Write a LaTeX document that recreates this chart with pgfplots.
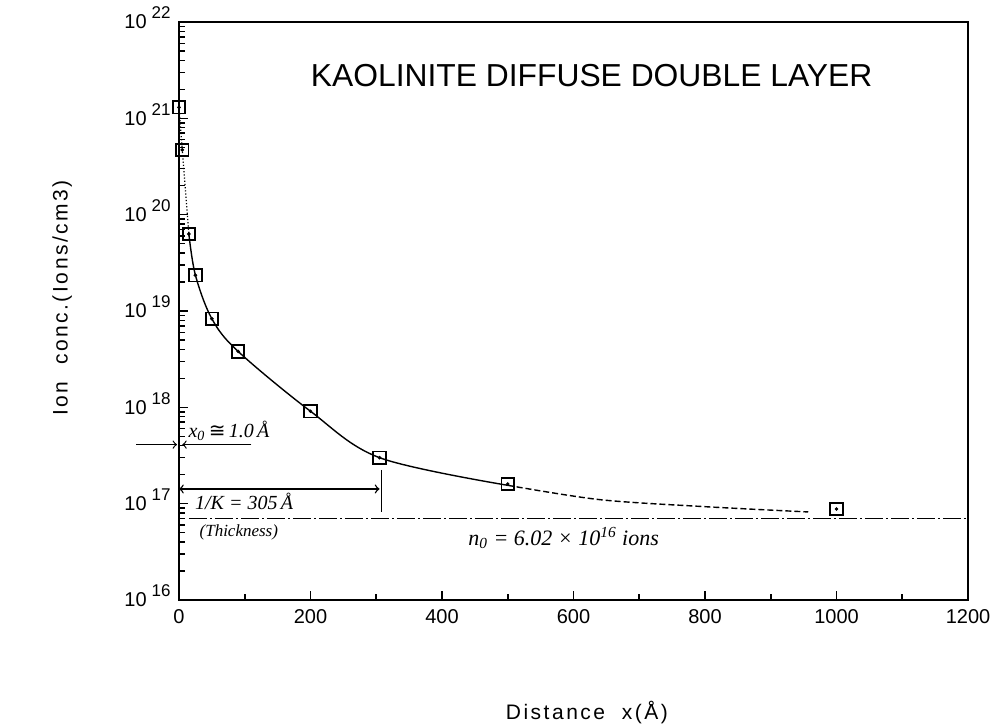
\documentclass[border=0pt]{standalone}
\usepackage{fontspec}
\setmainfont{Liberation Sans}
\newfontfamily\hand{Liberation Serif}
\newfontfamily\sym{DejaVu Sans}
\usepackage{pgfplots}
\pgfplotsset{compat=1.18}
\newcommand{\tl}[1]{10\hspace{2.5pt}\raisebox{5pt}{\fontsize{8.5}{8.5}\selectfont #1}}
\begin{document}
\begin{tikzpicture}
\begin{axis}[
  scale only axis, width=394.5pt, height=289pt,
  xmin=0, xmax=1200, ymode=log, ymin=1e16, ymax=1e22,
  xtick={0,200,...,1200}, minor xtick={100,300,...,1100},
  ytick={1e16,1e17,1e18,1e19,1e20,1e21,1e22},
  yticklabels={\tl{16},\tl{17},\tl{18},\tl{19},\tl{20},\tl{21},\tl{22}},
  minor ytick={2e16,3e16,4e16,5e16,6e16,7e16,8e16,9e16,
               2e17,3e17,4e17,5e17,6e17,7e17,8e17,9e17,
               2e18,3e18,4e18,5e18,6e18,7e18,8e18,9e18,
               2e19,3e19,4e19,5e19,6e19,7e19,8e19,9e19,
               2e20,3e20,4e20,5e20,6e20,7e20,8e20,9e20,
               2e21,3e21,4e21,5e21,6e21,7e21,8e21,9e21},
  tick align=inside, xtick pos=bottom, ytick pos=left,
  axis line style={line width=1.1pt},
  major tick length=4.5pt, minor tick length=2.8pt,
  every tick/.style={black, line width=0.8pt},
  clip=false,
  xticklabel style={font=\fontsize{10}{12}\selectfont, inner sep=0pt, anchor=north, yshift=-4.5pt,
    /pgf/number format/assume math mode=true, /pgf/number format/1000 sep={}},
  yticklabel style={font=\fontsize{10}{12}\selectfont, inner sep=0pt, anchor=base east, xshift=-4pt, yshift=-3.4pt},
]
% n0 level
\addplot[black, line width=0.6pt, dash pattern=on 9pt off 1.5pt on 1pt off 1.5pt] coordinates {(15,7.0e16) (1200,7.0e16)};
% dotted part near the surface
\addplot[black, line width=0.6pt, densely dotted] coordinates {(0,1.3e21) (5,4.7e20) (15,6.3e19)};
% main curve
\addplot[black, line width=0.7pt, smooth, tension=0.55] coordinates {
  (15,6.3e19) (25,2.35e19) (50,8.3e18) (90,3.8e18) (200,9.1e17) (305,3.0e17) (500,1.55e17)};
\addplot[black, line width=0.7pt, smooth, tension=0.5, dash pattern=on 3pt off 1.5pt] coordinates {
  (500,1.55e17) (640,1.1e17) (800,9.3e16) (957,8.2e16)};
% data points
\addplot[black, only marks, mark=square, mark size=3.1pt, mark options={line width=0.9pt, fill=white}] coordinates {
  (0,1.3e21) (5,4.7e20) (15,6.3e19) (25,2.35e19) (50,8.3e18) (90,3.8e18) (200,9.1e17) (305,3.0e17) (500,1.6e17) (1000,8.8e16)};
\addplot[black, only marks, mark=*, mark size=0.7pt] coordinates {
  (0,1.3e21) (5,4.7e20) (15,6.3e19) (25,2.35e19) (50,8.3e18) (90,3.8e18) (200,9.1e17) (305,3.0e17) (500,1.6e17) (1000,8.8e16)};
% annotations
\draw[->, line width=0.6pt] (axis cs:-65,4.1e17) -- (axis cs:-3,4.1e17);
\draw[->, line width=0.6pt] (axis cs:110,4.1e17) -- (axis cs:5,4.1e17);
\node[anchor=west, inner sep=0pt, font=\hand\itshape\fontsize{10}{12}\selectfont] at (axis cs:14,5.7e17) {x\textsubscript{0}\,{\sym\upshape≅}\,1.0\,Å};
\draw[<->, line width=0.7pt] (axis cs:0,1.42e17) -- (axis cs:305,1.42e17);
\draw[line width=0.6pt] (axis cs:308,2.24e17) -- (axis cs:308,8.2e16);
\node[font=\hand\itshape\fontsize{10}{12}\selectfont] at (axis cs:99,1.05e17) {1/K = 305\,Å};
\node[font=\hand\itshape\fontsize{8.5}{10}\selectfont] at (axis cs:91,5e16) {(Thickness)};
\node[font=\hand\itshape\fontsize{11}{13}\selectfont] at (axis cs:585,4.4e16) {n\textsubscript{0} = 6.02 × 10\textsuperscript{16} ions};
% title and labels
\node[font=\fontsize{15.9}{18}\selectfont] at (rel axis cs:0.523,0.9066) {KAOLINITE DIFFUSE DOUBLE LAYER};
\node[font=\fontsize{10.5}{12}\selectfont\addfontfeatures{LetterSpace=12}] at (rel axis cs:0.517,-0.1955) {Distance\ \ x(Å)};
\node[rotate=90, font=\fontsize{10.5}{12}\selectfont\addfontfeatures{LetterSpace=12}] at (rel axis cs:-0.148,0.5225) {Ion\ \ conc.(Ions/cm3)};
\coordinate (O) at (rel axis cs:0,0);
\end{axis}
\pgfresetboundingbox
\path (O) ++(-89.5pt,-63pt) rectangle ++(497pt,363pt);
\end{tikzpicture}
\end{document}
